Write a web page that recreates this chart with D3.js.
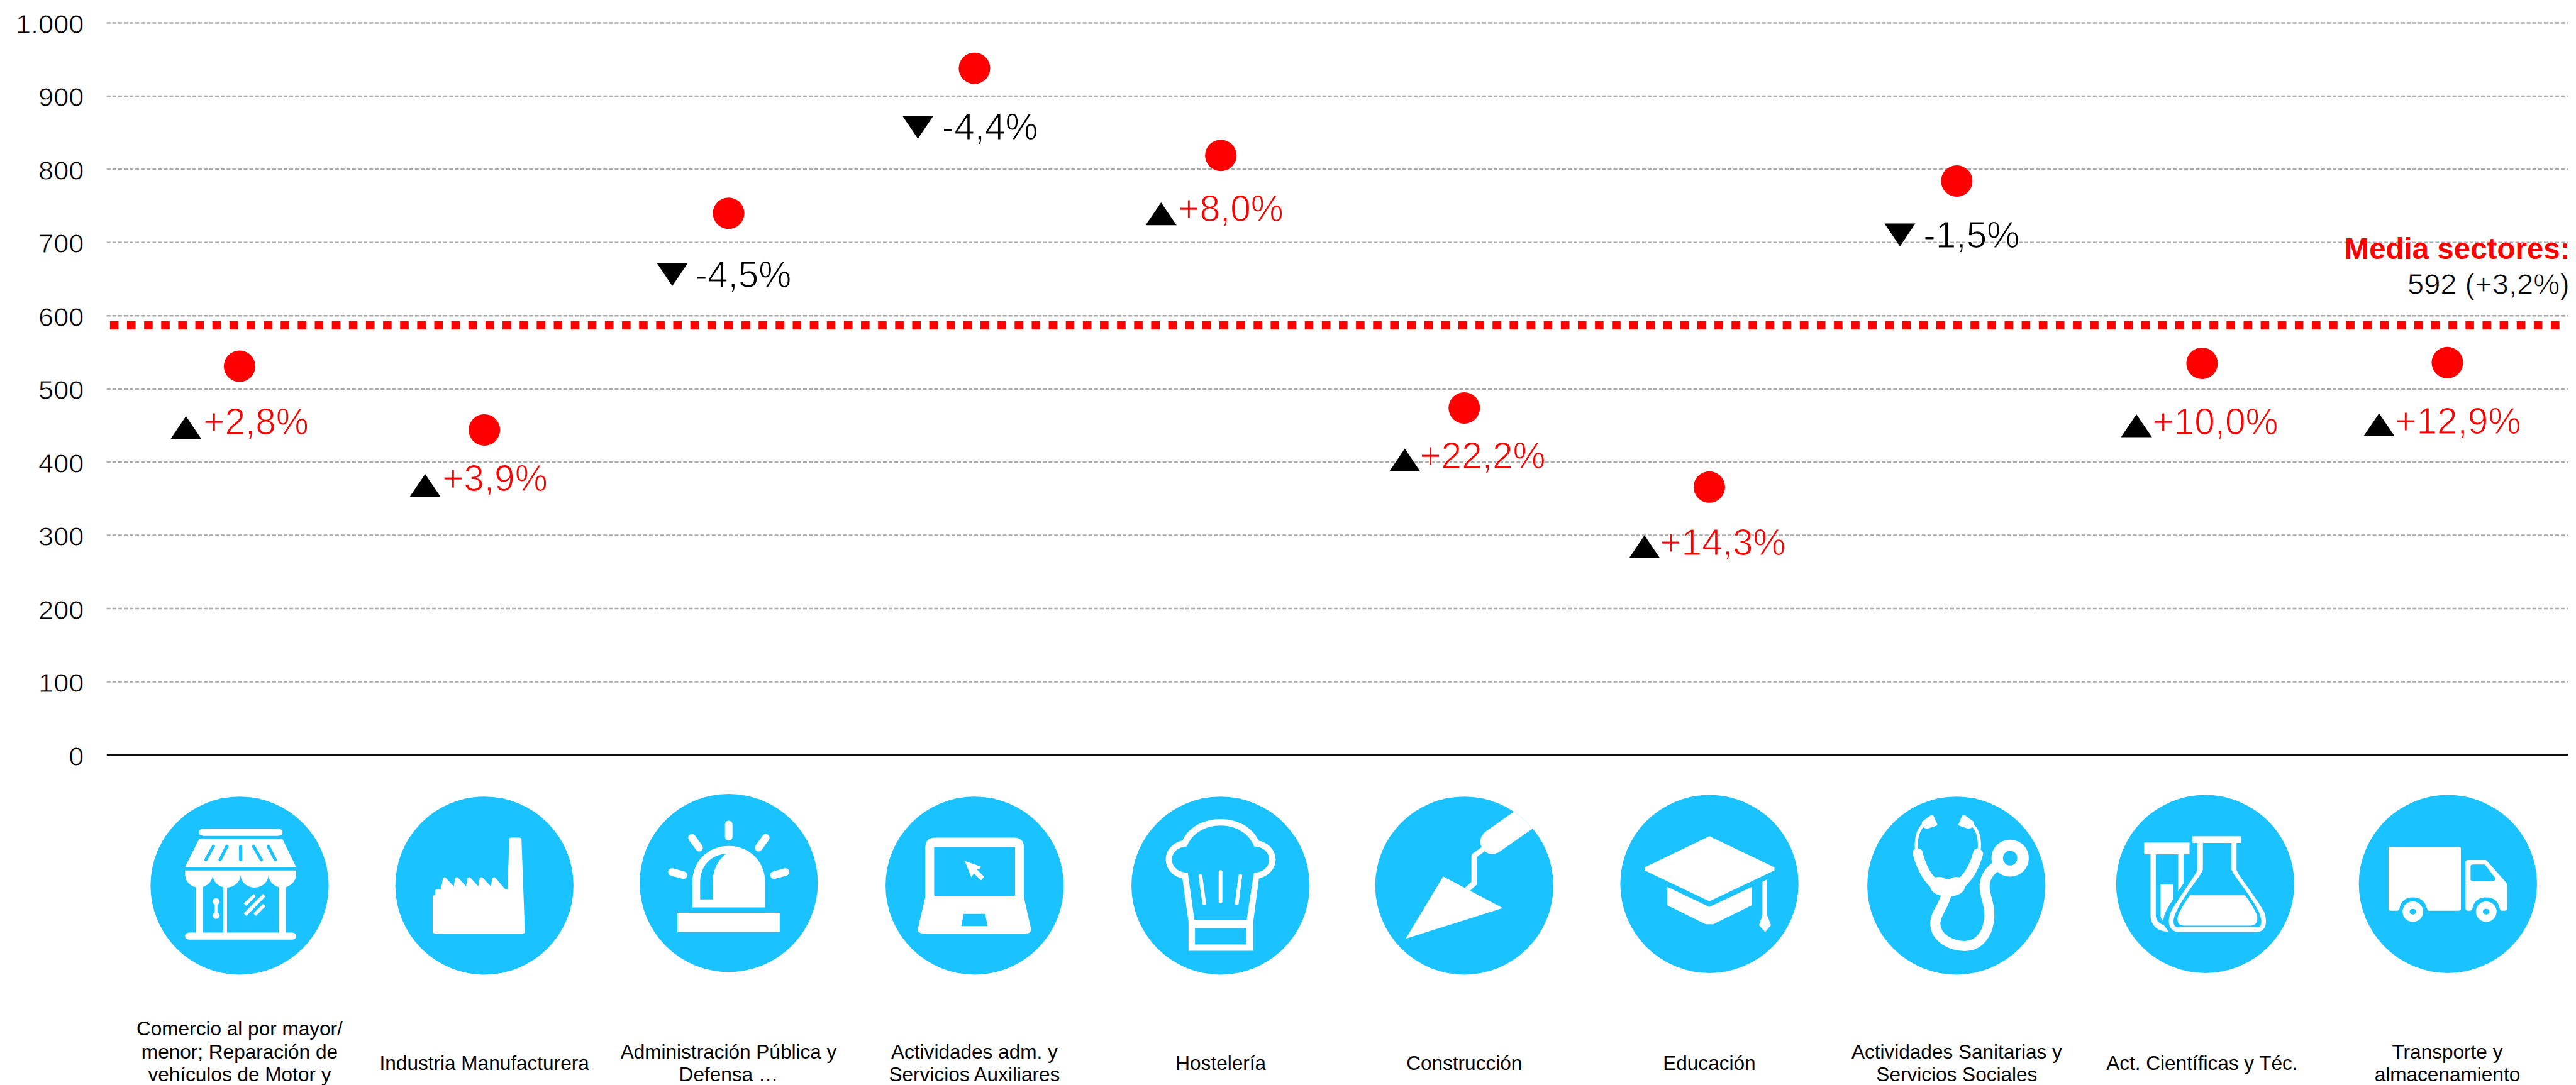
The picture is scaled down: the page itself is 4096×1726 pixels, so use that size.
<!DOCTYPE html>
<html lang="es">
<head>
<meta charset="utf-8">
<title>Sectores</title>
<script src="https://cdn.jsdelivr.net/npm/d3@7"></script>
<style>
html,body{margin:0;padding:0;background:#fff}
svg{display:block}
.num{font-family:"Liberation Sans",Arial,sans-serif;font-weight:400;stroke:#fff;stroke-width:0.9px}
.pct{font-family:"Liberation Sans",Arial,sans-serif;font-weight:400;stroke:#fff;stroke-width:1.4px}
.cat{font-family:"Liberation Sans",Arial,sans-serif;font-size:37.2px;fill:#000;text-anchor:middle}
</style>
</head>
<body>
<svg id="chart" width="4096" height="1726" viewBox="0 0 4829 2035"></svg>
<script>
// ---- data ----
const categories = [
  ["Comercio al por mayor/","menor; Reparación de","vehículos de Motor y"],
  ["Industria Manufacturera"],
  ["Administración Pública y","Defensa …"],
  ["Actividades adm. y","Servicios Auxiliares"],
  ["Hostelería"],
  ["Construcción"],
  ["Educación"],
  ["Actividades Sanitarias y","Servicios Sociales"],
  ["Act. Científicas y Téc."],
  ["Transporte y","almacenamiento"]
];
const values  = [531,444,740,938,819,474,366,784,535,536];
const changes = [2.8,3.9,-4.5,-4.4,8.0,22.2,14.3,-1.5,10.0,12.9];
const meanPosition = 587;
const meanLabelTitle = "Media sectores:";
const meanLabelValue = "592 (+3,2%)";
const yTicks = [0,100,200,300,400,500,600,700,800,900,1000];

// ---- layout (reference pixels, the viewBox scales them by 0.848) ----
const dotNudgeX = [0,-1,-3,-2,0,-3.5,-4,0,0,0];
const triDx  = [-100.5,-111,-105.5,-106,-112,-111.5,-121.5,-106.5,-123,-128];
const triDy  = [115,104,115,110.5,109.5,97.5,112,101,117,116.5];
const textDx = [32.5,32,43,45,32,28,29,44,30,30];
const textDy = [128,115,139,134,123,113.5,127.5,125,133,133];
const iconCx = [449,908,1366,1827,2288,2745,3204.5,3667.5,4134,4589];
const iconCy = [1661,1661,1656,1661,1661,1661,1658,1661,1658,1658];
const catLineStart = {1:2007,2:1985.5,3:1942};
const CYAN="#1AC2FF", RED="#FF0000";

const svg=d3.select("#chart");
svg.append("rect").attr("width",4829).attr("height",2035).attr("fill","#fff");

const x=d3.scalePoint().domain(d3.range(categories.length)).range([449,4588]);
const y=d3.scaleLinear().domain([0,1000]).range([1416,43]);
const left=200,right=4814;

// axis and grid
const axis=svg.append("g").attr("transform",`translate(${left},0)`)
  .call(d3.axisLeft(y).tickValues(yTicks).offset(0)
    .tickSizeInner(-(right-left)).tickSizeOuter(0).tickPadding(43)
    .tickFormat(d=>d3.format(",")(d).replace(",",".")));
axis.select(".domain").remove();
axis.selectAll(".tick line")
  .attr("stroke",d=>d===0?"#111":"#aaaaaa")
  .attr("stroke-width",3)
  .attr("stroke-dasharray",d=>d===0?null:"7 3.7");
axis.selectAll(".tick text").attr("class","num")
  .attr("font-size",51).attr("fill","#000").attr("dy",19.5);

// mean line
svg.append("line").attr("x1",206).attr("x2",4798)
  .attr("y1",y(meanPosition)).attr("y2",y(meanPosition))
  .attr("stroke",RED).attr("stroke-width",16).attr("stroke-dasharray","16 16");
svg.append("text").attr("x",4818).attr("y",486).attr("text-anchor","end")
  .attr("font-family","'Liberation Sans',Arial,sans-serif").attr("font-weight",700)
  .attr("font-size",56).attr("fill",RED).text(meanLabelTitle);
svg.append("text").attr("class","num").attr("x",4817).attr("y",552).attr("text-anchor","end")
  .attr("font-size",55.5).attr("fill","#000").text(meanLabelValue);

// dots
const px=i=>x(i)+dotNudgeX[i];
svg.append("g").selectAll("circle").data(values).join("circle")
  .attr("cx",(d,i)=>px(i)).attr("cy",d=>y(d)).attr("r",29.5).attr("fill",RED);

// triangles and percentages
const tri=(up)=>{const w=29,h=21.5,s=up?1:-1;return `M0 ${-s*h}L${w} ${s*h}L${-w} ${s*h}Z`;};
const fmt=v=>(v>0?"+":"-")+Math.abs(v).toFixed(1).replace(".",",")+"%";
const marks=svg.append("g").selectAll("g").data(changes).join("g");
marks.append("path")
  .attr("d",d=>tri(d>0))
  .attr("transform",(d,i)=>`translate(${px(i)+triDx[i]},${y(values[i])+triDy[i]})`)
  .attr("fill","#000");
marks.append("text").attr("class","pct")
  .attr("x",(d,i)=>px(i)+triDx[i]+textDx[i]).attr("y",(d,i)=>y(values[i])+textDy[i])
  .attr("font-size",69).attr("fill",d=>d>0?RED:"#000").text(fmt);

// category labels
const cats=svg.append("g").selectAll("text").data(categories).join("text").attr("class","cat");
cats.each(function(lines,i){
  const t=d3.select(this);
  lines.forEach((l,j)=>t.append("tspan").attr("x",px(i)).attr("y",catLineStart[lines.length]+j*43).text(l));
});

// pictograms, drawn in the crop coordinates in which they were traced
const W=(d)=>`<path d="${d}" fill="#fff"/>`;
const C=(d)=>`<path d="${d}" fill="${CYAN}"/>`;
const R=(x,y,w,h,r=0,f="#fff")=>`<rect x="${x}" y="${y}" width="${w}" height="${h}" rx="${r}" ry="${r}" fill="${f}"/>`;
const E=(cx,cy,rx,ry,f="#fff")=>`<ellipse cx="${cx}" cy="${cy}" rx="${rx}" ry="${ry}" fill="${f}"/>`;
const L=(d,sw,c="#fff")=>`<path d="${d}" fill="none" stroke="${c}" stroke-width="${sw}" stroke-linecap="round" stroke-linejoin="round" vector-effect="non-scaling-stroke"/>`;
const icons=[
 {z:[390,566,1.568],art:
  R(271,280,245,36,14)+W("M271 332H516L556 472H230Z")+
  L("M313 368L291 436",5,CYAN)+L("M353 368L333 436",5,CYAN)+L("M393 368V436",5,CYAN)+L("M431 368L454 436",5,CYAN)+L("M474 368L495 436",5,CYAN)+
  W("M230 490H556V510C556 550 535 576 516 576C495 576 475 550 475 510C475 550 455 576 434 576C413 576 393 550 393 510C393 550 372 576 352 576C331 576 311 550 311 510C311 550 290 576 270 576C250 576 230 550 230 510Z")+
  R(261,570,21,235)+R(342,570,11,235)+R(505,570,21,235)+R(230,802,326,36,14)+
  E(321,646,10,17)+E(321,716,10,17)+R(317,650,8,70)+
  W("M432 608L437 620L410 668L402 656Z")+W("M459 608L466 620L410 718L402 706Z")+W("M459 658L466 670L438 718L431 706Z")},
 {z:[1110,566,1.568],art:
  W("M958 620Q958 614 966 614V590Q966 584 972 584H982L988 530Q992 518 998 530L1020 570L1024 530Q1028 518 1035 530L1056 570L1060 530Q1065 518 1071 530L1092 570L1096 530Q1101 518 1107 530L1129 570L1133 530Q1138 518 1144 530L1171 584H1178L1183 335Q1183 325 1190 325H1212Q1219 325 1219 335L1229 800Q1229 807 1222 807H966Q958 807 958 800Z")},
 {z:[339,552,1.568],art:
  L("M339 258V320",12)+L("M231 325L252 375",12)+L("M448 325L427 375",12)+L("M172 497L206 513",12)+L("M506 497L472 513",12)+
  W("M232 675V550C232 440 280 366 339 366C398 366 446 440 446 550V675Z")+
  C("M255 635V550C255 470 285 410 332 405C305 440 292 490 292 550V635Z")+
  R(188,702,301,97)},
 {z:[1062,566,1.568],art:
  W("M917 375Q917 325 947 325H1177Q1207 325 1207 375V625L1228 785Q1228 807 1214 807H910Q895 807 895 785L917 625Z")+
  R(943,372,238,245,3,CYAN)+C("M1030 708H1093L1100 770H1023Z")+
  W("M1033 442L1080 470Q1082 480 1068 484L1090 522L1081 540L1060 505L1052 523Z")},
 {z:[373,566,1.568],art:
  W("M261 340C280 270 325 232 373 232C421 232 466 270 485 340C515 350 535 390 535 435C535 480 515 520 486 530L469 750V894H279V750L261 530C232 520 212 480 212 435C212 390 232 350 261 340Z")+
  C("M274 369C290 300 330 264 373 264C416 264 456 300 472 369C500 372 516 400 516 435C516 470 500 500 471 502L450 737H296L277 502C248 500 230 470 230 435C230 400 248 372 274 369Z")+
  L("M314 518L325 655",6)+L("M373 498V645",6)+L("M431 518L421 655",6)+
  R(298,780,151,82,0,CYAN)},
 {z:[1090,566,1.568],art:
  W("M1028 520L1203 679L918 833Z")+
  W("M1237 193L1155 292Q1137 315 1137 345Q1137 360 1141 372L1115 405Q1111 410 1111 418V548L1092 577L1107 592L1127 560V422L1150 394L1160 404Q1175 412 1190 400L1292 278L1320 245L1260 165Z")},
 {z:[399,558,1.568],art:
  W("M399 318L590 474V490L399 645L209 490V474Z")+
  W("M275 572L399 673L524 572V665L410 760H388L275 665Z")+
  W("M555 547L569 534V715L580 765L563 800L545 765L555 715Z")},
 {z:[1125,566,1.568],art:
  W("M1024 245L1050 212Q1055 210 1058 216L1069 258Q1069 265 1062 268L1040 280Q1030 280 1024 265Z")+
  W("M1176 245L1150 212Q1145 210 1142 216L1131 258Q1131 265 1138 268L1160 280Q1170 280 1176 265Z")+
  L("M1028 260C1010 290 1005 340 1008 385",5)+L("M1172 260C1190 290 1195 340 1192 385",5)+
  W("M996 400Q1000 378 1012 380Q1024 380 1026 400C1035 460 1048 500 1062 525Q1075 520 1085 525Q1100 542 1115 525Q1125 520 1135 525C1150 500 1165 460 1174 400Q1176 380 1188 380Q1202 385 1204 405C1195 470 1175 535 1150 572Q1148 615 1100 622Q1052 615 1048 572C1025 535 1005 470 996 400Z")+
  L("M1095 615C1085 680 1065 700 1063 755C1063 830 1110 870 1150 870C1195 870 1222 800 1222 710C1222 650 1208 620 1208 570C1208 520 1225 490 1245 465",16)+
  E(1283,428,55,93)+E(1283,428,21,37,CYAN)},
 {z:[454,558,1.6],art:
  R(271,350,136,59)+W("M290 409V715C290 770 315 798 345 798L330 765C315 755 306 740 306 715V409Z")+W("M373 409H389V555L373 595Z")+
  W("M320 560H358V635C340 680 330 710 328 745C322 735 320 725 320 715Z")+
  R(416,318,145,34)+
  W("M431 352V485C425 515 385 600 352 695C335 760 350 800 378 800H608C632 800 645 760 630 695C597 600 552 515 548 485V352Z")+
  C("M447 352V485C443 515 395 600 368 695C352 745 358 787 380 774H604C624 787 628 745 614 695C585 600 538 515 533 485V352Z")+
  W("M408 615H574C590 655 605 690 610 720C612 750 605 767 592 767H390C375 767 368 750 372 720C378 690 392 655 408 615Z")},
 {z:[1183,558,1.6],art:
  W("M1005 380Q1005 371 1012 371H1215Q1222 371 1222 380V685Q1222 692 1215 692H1125Q1122 692 1120 680C1115 645 1100 625 1078 625C1056 625 1042 645 1038 680Q1036 692 1032 692H1012Q1005 692 1005 685Z")+
  W("M1236 447Q1236 437 1245 437H1295Q1300 437 1302 445L1358 552Q1361 558 1361 568V682Q1361 692 1352 692H1344Q1340 692 1338 680C1335 645 1320 625 1298 625C1276 625 1260 645 1257 680Q1255 692 1250 692H1244Q1236 692 1236 682Z")+
  C("M1251 470Q1251 460 1258 460H1294L1325 528Q1326 543 1318 543H1258Q1251 543 1251 535Z")+
  E(1078,697,31,51)+E(1078,697,10,14,CYAN)+E(1298,697,31,51)+E(1298,697,10,14,CYAN)}
];
const ZY=2.68;
const defs=svg.append("defs");
const ig=svg.append("g").selectAll("g").data(icons).join("g")
  .attr("transform",(d,i)=>`translate(${iconCx[i]},${iconCy[i]})`);
ig.each(function(d,i){
  defs.append("clipPath").attr("id","ic"+i).append("circle").attr("r",167);
});
ig.append("circle").attr("r",167).attr("fill",CYAN);
ig.append("g").attr("clip-path",(d,i)=>`url(#ic${i})`)
  .append("g").attr("transform",d=>`scale(${1/d.z[2]},${1/ZY}) translate(${-d.z[0]},${-d.z[1]})`)
  .html(d=>d.art);
</script>
</body>
</html>
